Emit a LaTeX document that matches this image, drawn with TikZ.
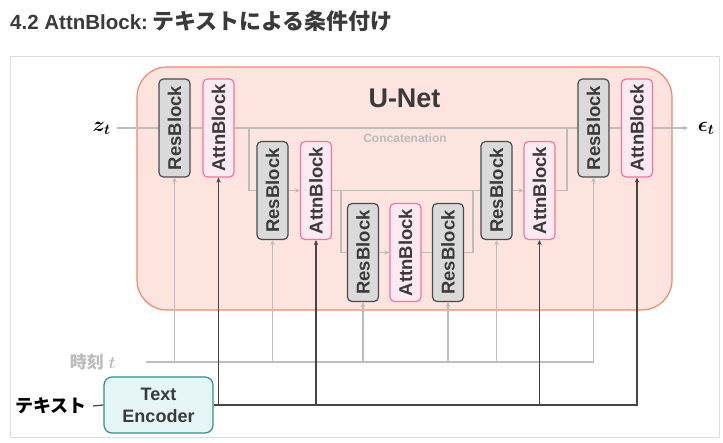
\documentclass[tikz,border=0pt]{standalone}
\usepackage{fontspec}
\setmainfont{Liberation Sans}
\newfontfamily\jpfont{Noto Sans CJK JP}
\usepackage{amsmath,bm}
\usepackage{graphicx}
\usetikzlibrary{arrows.meta}
\definecolor{unetfill}{HTML}{FDE4DF}
\definecolor{unetborder}{HTML}{EF886E}
\definecolor{resf}{HTML}{DADADA}
\definecolor{resb}{HTML}{4A4A4A}
\definecolor{attnf}{HTML}{FDE9F1}
\definecolor{attnb}{HTML}{F0759F}
\definecolor{linegray}{HTML}{BDBDBD}
\definecolor{linedark}{HTML}{454545}
\definecolor{tef}{HTML}{E6F5F5}
\definecolor{teb}{HTML}{2F8F8F}
\definecolor{framec}{HTML}{DDDDDD}
\definecolor{txtc}{HTML}{3A3A3A}
\definecolor{timec}{HTML}{BBBBBB}
\tikzset{
  blk/.style={rounded corners=4.5pt, minimum width=31pt, minimum height=98pt, inner sep=0pt,
    line width=1.2pt, font=\bfseries\fontsize{18.5}{18.5}\selectfont, text=txtc},
  res/.style={blk, draw=resb, fill=resf},
  attn/.style={blk, draw=attnb, fill=attnf},
  gl/.style={draw=linegray, line width=1.2pt},
  dl/.style={draw=linedark, line width=1.2pt},
  arr/.style={-{Stealth[length=5pt,width=4.5pt]}},
  te/.style={draw=teb, fill=tef, line width=1.2pt, rounded corners=8pt, minimum width=109pt,
    minimum height=56pt, align=center, inner sep=0pt, text=txtc,
    font=\bfseries\fontsize{18}{22}\selectfont},
}
\begin{document}
\begin{tikzpicture}[x=1pt,y=-1pt]
\fill[white] (0,0) rectangle (723,443);
\useasboundingbox (0,0) rectangle (723,443);
\draw[framec, line width=1pt] (10,57) rectangle (719,438);
\node[anchor=base west, inner sep=0pt, text=txtc, font=\bfseries\fontsize{20.5}{20.5}\selectfont] (title) at (10,30)
  {4.2 AttnBlock:\hspace{4pt}{\jpfont\bfseries\fontsize{22}{22}\selectfont テキストによる条件付け}};
% U-Net box
\draw[unetborder, fill=unetfill, line width=1.2pt, rounded corners=30pt] (137,67) rectangle (672,310);
\node[text=txtc, font=\bfseries\fontsize{27}{27}\selectfont, inner sep=0pt] (unet) at (404.5,98) {U-Net};
\node[text=timec, font=\bfseries\fontsize{12}{12}\selectfont, inner sep=0pt] (concat) at (405,138) {Concatenation};
% blocks
\node[res]  (r1)  at (174.5,128) {\rotatebox{90}{ResBlock}};
\node[attn] (a1)  at (218.5,128) {\rotatebox{90}{AttnBlock}};
\node[res]  (r2)  at (272.5,190.5) {\rotatebox{90}{ResBlock}};
\node[attn] (a2)  at (316,190.5) {\rotatebox{90}{AttnBlock}};
\node[res]  (r3)  at (363,252.5) {\rotatebox{90}{ResBlock}};
\node[attn] (a3)  at (405.5,252.5) {\rotatebox{90}{AttnBlock}};
\node[res]  (r3b) at (448,252.5) {\rotatebox{90}{ResBlock}};
\node[res]  (rr2) at (496.5,190.5) {\rotatebox{90}{ResBlock}};
\node[attn] (ar2) at (539.5,190.5) {\rotatebox{90}{AttnBlock}};
\node[res]  (rr1) at (593.5,128) {\rotatebox{90}{ResBlock}};
\node[attn] (ar1) at (637,128) {\rotatebox{90}{AttnBlock}};
% inputs / outputs
\node[inner sep=0pt, font=\fontsize{20.74}{20.74}\selectfont] (zt) at (101.5,128) {$\bm{z}_{\bm{t}}$};
\node[inner sep=0pt, font=\fontsize{20.74}{20.74}\selectfont] (eps) at (706,128) {$\bm{\epsilon}_{\bm{t}}$};
\coordinate (zin) at (117,128);
\coordinate (epsin) at (688,128);
% main gray path
\draw[gl] (zin) -- (r1.west);
\draw[gl] (r1.east) -- (a1.west);
\draw[gl] (a1.east) -- (rr1.west);
\draw[gl] (rr1.east) -- (ar1.west);
\draw[gl,arr] (ar1.east) -- (epsin);
\coordinate (d1) at (249,128);
\draw[gl] (d1) |- (r2.west);
\draw[gl,arr] (r2.east) -- (a2.west);
\draw[gl] (a2.east) -- (rr2.west);
\coordinate (d2) at (341,190.5);
\draw[gl] (d2) |- (r3.west);
\draw[gl,arr] (r3.east) -- (a3.west);
\draw[gl] (a3.east) -- (r3b.west);
\coordinate (u2) at (473,190.5);
\draw[gl] (r3b.east) -| (u2);
\draw[gl,arr] (rr2.east) -- (ar2.west);
\coordinate (u1) at (567,128);
\draw[gl] (ar2.east) -| (u1);
% time
\node[anchor=east, inner sep=0pt, text=timec, font=\bfseries\fontsize{17}{17}\selectfont] (timelbl) at (116,362)
  {{\jpfont\bfseries 時刻} $\bm{t}$};
\coordinate (tstart) at (146,362);
\draw[gl,arr] (tstart) -| (rr1.south);
\foreach \n in {r1,r2,r3,r3b,rr2} \draw[gl,arr] (\n.south |- tstart) -- (\n.south);
% text
\node[te] (te) at (158.5,405) {Text\\Encoder};
\node[anchor=east, inner sep=0pt, text=black, font=\jpfont\bfseries\fontsize{18}{18}\selectfont] (txtlbl) at (87,406) {テキスト};
\draw[dl] ([xshift=6pt]txtlbl.east) -- (te.west);
\draw[dl,arr] (te.east) -| (ar1.south);
\foreach \n in {a1,a2,ar2} \draw[dl,arr] (\n.south |- te.east) -- (\n.south);
\end{tikzpicture}
\end{document}
